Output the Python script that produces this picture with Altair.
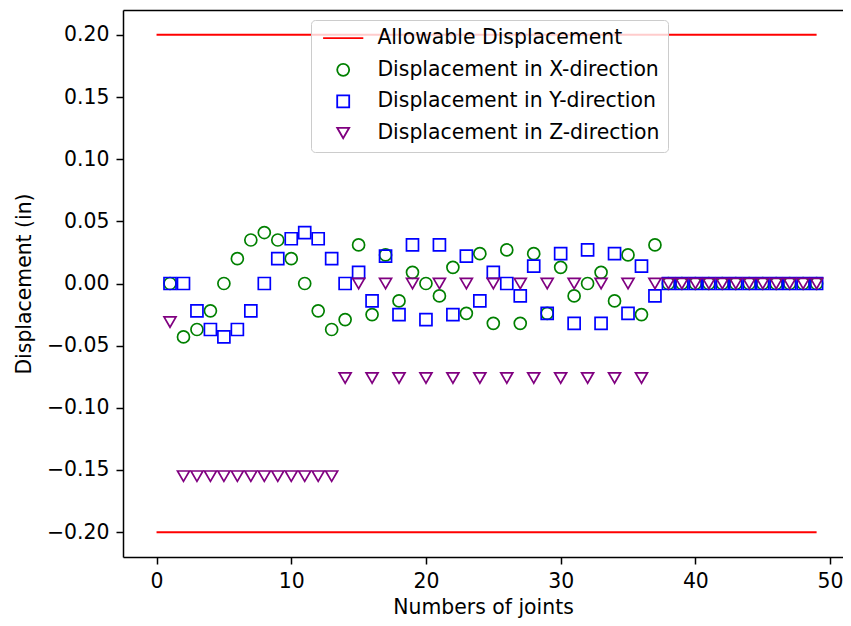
import altair as alt
import pandas as pd

# ---------------- data ----------------
joints = [1, 2, 3, 4, 5, 6, 7, 8, 9, 10, 11, 12, 13, 14, 15, 16, 17, 18, 19, 20,
          21, 22, 23, 24, 25, 26, 27, 28, 29, 30, 31, 32, 33, 34, 35, 36, 37, 38, 39, 40,
          41, 42, 43, 44, 45, 46, 47, 48, 49]

x_disp = [0.0, -0.043, -0.037, -0.022, 0.0, 0.020, 0.035, 0.041, 0.035, 0.020,
          0.0, -0.022, -0.037, -0.029, 0.031, -0.025, 0.023, -0.014, 0.009, 0.0,
          -0.010, 0.013, -0.024, 0.024, -0.032, 0.027, -0.032, 0.024, -0.024, 0.013,
          -0.010, 0.0, 0.009, -0.014, 0.023, -0.025, 0.031, 0.0, 0.0, 0.0,
          0.0, 0.0, 0.0, 0.0, 0.0, 0.0, 0.0, 0.0, 0.0]

y_disp = [0.0, 0.0, -0.022, -0.037, -0.043, -0.037, -0.022, 0.0, 0.020, 0.036,
          0.041, 0.036, 0.020, 0.0, 0.009, -0.014, 0.022, -0.025, 0.031, -0.029,
          0.031, -0.025, 0.022, -0.014, 0.009, 0.0, -0.010, 0.014, -0.024, 0.024,
          -0.032, 0.027, -0.032, 0.024, -0.024, 0.014, -0.010, 0.0, 0.0, 0.0,
          0.0, 0.0, 0.0, 0.0, 0.0, 0.0, 0.0, 0.0, 0.0]

z_disp = [-0.031, -0.155, -0.155, -0.155, -0.155, -0.155, -0.155, -0.155, -0.155, -0.155,
          -0.155, -0.155, -0.155, -0.076, 0.0, -0.076, 0.0, -0.076, 0.0, -0.076,
          0.0, -0.076, 0.0, -0.076, 0.0, -0.076, 0.0, -0.076, 0.0, -0.076,
          0.0, -0.076, 0.0, -0.076, 0.0, -0.076, 0.0, 0.0, 0.0, 0.0,
          0.0, 0.0, 0.0, 0.0, 0.0, 0.0, 0.0, 0.0, 0.0]

series_names = ["Allowable Displacement", "Displacement in X-direction",
                "Displacement in Y-direction", "Displacement in Z-direction"]
series_colors = ["#ff0000", "#008000", "#0000ff", "#800080"]

allow_x = [0, 49]
allow_y = [0.2, -0.2]

x_ticks = [0, 10, 20, 30, 40, 50]
y_ticks = [-0.20, -0.15, -0.10, -0.05, 0.0, 0.05, 0.10, 0.15, 0.20]

# ---------------- tables ----------------
rows = []
for name, vals in zip(series_names[1:], [x_disp, y_disp, z_disp]):
    for j, v in zip(joints, vals):
        rows.append({"joint": j, "value": v, "series": name})
points = pd.DataFrame(rows)

line_rows = []
for yv in allow_y:
    for xv in allow_x:
        line_rows.append({"joint": xv, "value": yv, "series": series_names[0], "grp": str(yv)})
lines = pd.DataFrame(line_rows)

FONT = "DejaVu Sans"
FS = 20.4

xscale = alt.Scale(domain=[-2.49, 50.96], nice=False, zero=False)
yscale = alt.Scale(domain=[-0.22, 0.22], nice=False, zero=False)

legend = alt.Legend(
    title=None, orient="none", legendX=188, legendY=10,
    padding=8, fillColor="rgba(255,255,255,0.8)", strokeColor="#cccccc",
    cornerRadius=4, labelFont=FONT, labelFontSize=FS, labelColor="black",
    symbolSize=144, symbolStrokeWidth=1.8, symbolOffset=14, labelOffset=24,
    rowPadding=10.6, labelLimit=400,
)

color = alt.Color("series:N", scale=alt.Scale(domain=series_names, range=series_colors),
                  legend=legend)
shape = alt.Shape("series:N",
                  scale=alt.Scale(domain=series_names,
                                  range=["M-3.35,0L3.35,0", "circle", "square", "triangle-down"]),
                  legend=legend)

x_enc = alt.X("joint:Q", scale=xscale,
              axis=alt.Axis(values=x_ticks, format="d", title="Numbers of joints",
                            tickSize=7, labelPadding=7, titlePadding=6))
y_enc = alt.Y("value:Q", scale=yscale,
              axis=alt.Axis(values=y_ticks, format=".2f", title="Displacement (in)",
                            tickSize=7, labelPadding=7, titlePadding=12))

lns = alt.Chart(lines).mark_line(strokeWidth=2).encode(
    x=x_enc, y=y_enc, color=color, detail="grp:N"
)

pts = alt.Chart(points).mark_point(filled=False, size=144, strokeWidth=1.7, opacity=1).encode(
    x=alt.X("joint:Q", scale=xscale, axis=None),
    y=y_enc,
    color=color, shape=shape
)

top = alt.Chart(lines).mark_point(opacity=0, size=1).encode(
    x=alt.X("joint:Q", scale=xscale,
            axis=alt.Axis(orient="top", labels=False, ticks=False, title=None, domain=True)),
)

chart = alt.layer(lns, pts, top).resolve_axis(x="independent").properties(
    width=720, height=547,
    autosize=alt.AutoSizeParams(type="none"),
    padding={"left": 115, "top": 2, "right": 0, "bottom": 61},
).configure_view(stroke=None).configure_axis(
    labelFont=FONT, labelFontSize=FS, labelColor="black",
    titleFont=FONT, titleFontSize=FS, titleColor="black", titleFontWeight="normal",
    domainColor="black", tickColor="black", domainWidth=1.5, tickWidth=1.5, grid=False,
)

chart.save("out.html", embed_options={"renderer": "svg", "actions": False})
